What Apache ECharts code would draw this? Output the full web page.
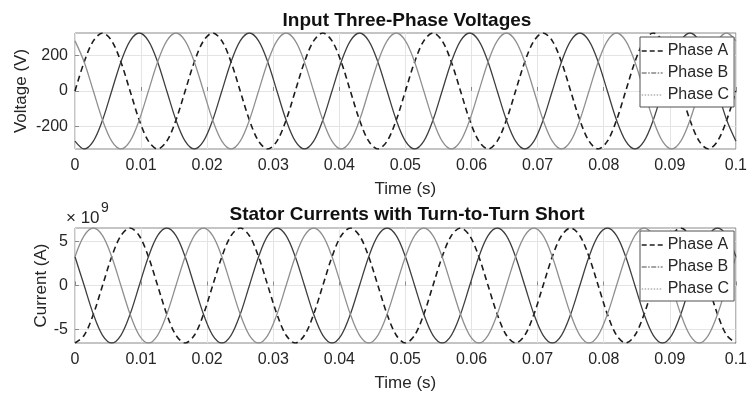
<!DOCTYPE html>
<html><head><meta charset="utf-8">
<script src="https://cdn.jsdelivr.net/npm/echarts@6/dist/echarts.min.js"></script>
<style>html,body{margin:0;padding:0;background:#fff}#c{width:750px;height:394px}</style>
</head><body><div id="c"></div>
<script>
// Sample times (s), 30 electrical degrees apart at 60 Hz
const time = [
0,0.001389,0.002778,0.004167,0.005556,0.006944,0.008333,0.009722,0.011111,0.0125,0.013889,0.015278,
0.016667,0.018056,0.019444,0.020833,0.022222,0.023611,0.025,0.026389,0.027778,0.029167,0.030556,0.031944,
0.033333,0.034722,0.036111,0.0375,0.038889,0.040278,0.041667,0.043056,0.044444,0.045833,0.047222,0.048611,
0.05,0.051389,0.052778,0.054167,0.055556,0.056944,0.058333,0.059722,0.061111,0.0625,0.063889,0.065278,
0.066667,0.068056,0.069444,0.070833,0.072222,0.073611,0.075,0.076389,0.077778,0.079167,0.080556,0.081944,
0.083333,0.084722,0.086111,0.0875,0.088889,0.090278,0.091667,0.093056,0.094444,0.095833,0.097222,0.098611,
0.1];

// Voltages (V)
const voltageA = [
0,163,281,325,281,163,0,-163,-281,-325,-281,-163,
0,163,281,325,281,163,0,-163,-281,-325,-281,-163,
0,163,281,325,281,163,0,-163,-281,-325,-281,-163,
0,163,281,325,281,163,0,-163,-281,-325,-281,-163,
0,163,281,325,281,163,0,-163,-281,-325,-281,-163,
0,163,281,325,281,163,0,-163,-281,-325,-281,-163,
0];
const voltageB = [
-281,-325,-281,-163,0,163,281,325,281,163,0,-163,
-281,-325,-281,-163,0,163,281,325,281,163,0,-163,
-281,-325,-281,-163,0,163,281,325,281,163,0,-163,
-281,-325,-281,-163,0,163,281,325,281,163,0,-163,
-281,-325,-281,-163,0,163,281,325,281,163,0,-163,
-281,-325,-281,-163,0,163,281,325,281,163,0,-163,
-281];
const voltageC = [
281,163,0,-163,-281,-325,-281,-163,0,163,281,325,
281,163,0,-163,-281,-325,-281,-163,0,163,281,325,
281,163,0,-163,-281,-325,-281,-163,0,163,281,325,
281,163,0,-163,-281,-325,-281,-163,0,163,281,325,
281,163,0,-163,-281,-325,-281,-163,0,163,281,325,
281,163,0,-163,-281,-325,-281,-163,0,163,281,325,
281];

// Currents (units of 1e9 A)
const currentA = [
-6.5,-5.63,-3.25,0,3.25,5.63,6.5,5.63,3.25,0,-3.25,-5.63,
-6.5,-5.63,-3.25,0,3.25,5.63,6.5,5.63,3.25,0,-3.25,-5.63,
-6.5,-5.63,-3.25,0,3.25,5.63,6.5,5.63,3.25,0,-3.25,-5.63,
-6.5,-5.63,-3.25,0,3.25,5.63,6.5,5.63,3.25,0,-3.25,-5.63,
-6.5,-5.63,-3.25,0,3.25,5.63,6.5,5.63,3.25,0,-3.25,-5.63,
-6.5,-5.63,-3.25,0,3.25,5.63,6.5,5.63,3.25,0,-3.25,-5.63,
-6.5];
const currentB = [
3.25,0,-3.25,-5.63,-6.5,-5.63,-3.25,0,3.25,5.63,6.5,5.63,
3.25,0,-3.25,-5.63,-6.5,-5.63,-3.25,0,3.25,5.63,6.5,5.63,
3.25,0,-3.25,-5.63,-6.5,-5.63,-3.25,0,3.25,5.63,6.5,5.63,
3.25,0,-3.25,-5.63,-6.5,-5.63,-3.25,0,3.25,5.63,6.5,5.63,
3.25,0,-3.25,-5.63,-6.5,-5.63,-3.25,0,3.25,5.63,6.5,5.63,
3.25,0,-3.25,-5.63,-6.5,-5.63,-3.25,0,3.25,5.63,6.5,5.63,
3.25];
const currentC = [
3.25,5.63,6.5,5.63,3.25,0,-3.25,-5.63,-6.5,-5.63,-3.25,0,
3.25,5.63,6.5,5.63,3.25,0,-3.25,-5.63,-6.5,-5.63,-3.25,0,
3.25,5.63,6.5,5.63,3.25,0,-3.25,-5.63,-6.5,-5.63,-3.25,0,
3.25,5.63,6.5,5.63,3.25,0,-3.25,-5.63,-6.5,-5.63,-3.25,0,
3.25,5.63,6.5,5.63,3.25,0,-3.25,-5.63,-6.5,-5.63,-3.25,0,
3.25,5.63,6.5,5.63,3.25,0,-3.25,-5.63,-6.5,-5.63,-3.25,0,
3.25];

const phaseNames = ['Phase A','Phase B','Phase C'];
const voltageTicks = [-200, 0, 200];
const currentTicks = [-5, 0, 5];
const voltageLimit = [-325, 325];
const currentLimit = [-6.5, 6.5];
const timeRange = [0, 0.1];
const timeStep = 0.01;

const FONT = '"Liberation Sans", Arial, Helvetica, sans-serif';
const FRAME = '#8a8a8a';
const GRIDC = '#e4e4e4';
const TXT = '#262626';

const lineStyles = [
  {color:'#1c1c1c', width:1.6, type:[6,4]},
  {color:'#3e3e3e', width:1.3, type:'solid'},
  {color:'#8f8f8f', width:1.3, type:'solid'}
];
const legendStyles = [
  {color:'#1c1c1c', width:1.4, type:[5,3]},
  {color:'#4a4a4a', width:1.2, type:[5,1.5,1.5,1.5]},
  {color:'#8a8a8a', width:1.2, type:[1.5,1.5]}
];

function pairs(ys){ return time.map((t,i)=>[t, ys[i]]); }

function xAxisCfg(gi){
  return {
    type:'value', gridIndex:gi, min:timeRange[0], max:timeRange[1], interval:timeStep,
    name:'Time (s)', nameLocation:'middle', nameGap:32,
    nameTextStyle:{fontFamily:FONT, fontSize:17, color:TXT},
    axisLine:{show:false},
    axisTick:{show:true, inside:true, length:4, lineStyle:{color:FRAME}},
    axisLabel:{fontFamily:FONT, fontSize:16, color:TXT, margin:9,
      formatter:v=>String(parseFloat(v.toFixed(3)))},
    splitLine:{show:true, lineStyle:{color:GRIDC, width:1}}
  };
}
function yAxisCfg(gi, name, lim, ticks, gap){
  return {
    type:'value', gridIndex:gi, min:lim[0], max:lim[1],
    name:name, nameLocation:'middle', nameGap:gap, nameMoveOverlap:false,
    nameTextStyle:{fontFamily:FONT, fontSize:17, color:TXT},
    axisLine:{show:false},
    axisTick:{show:true, inside:true, length:4, lineStyle:{color:FRAME}, customValues:ticks},
    axisLabel:{fontFamily:FONT, fontSize:16, color:TXT, margin:7, customValues:ticks},
    splitLine:{show:true, lineStyle:{color:GRIDC, width:1}}
  };
}

const series = [];
[voltageA, voltageB, voltageC].forEach((d,i)=>series.push({
  type:'line', name:phaseNames[i], xAxisIndex:0, yAxisIndex:0, data:pairs(d),
  symbol:'none', smooth:0.33, lineStyle:lineStyles[i], itemStyle:{color:lineStyles[i].color}, z:3, animation:false
}));
[currentA, currentB, currentC].forEach((d,i)=>series.push({
  type:'line', name:phaseNames[i], xAxisIndex:1, yAxisIndex:1, data:pairs(d),
  symbol:'none', smooth:0.33, lineStyle:lineStyles[i], itemStyle:{color:lineStyles[i].color}, z:3, animation:false
}));

function legendCfg(top){
  return {
    show:true, type:'plain',
    orient:'vertical', left:640, top:top,
    backgroundColor:'#fff', borderColor:'#505050', borderWidth:1,
    padding:[6,5,4,1], itemGap:6, itemWidth:21, itemHeight:14,
    textStyle:{fontFamily:FONT, fontSize:16, color:TXT},
    selectedMode:false, z:10,
    data: phaseNames.map((n,i)=>({name:n, lineStyle:legendStyles[i], itemStyle:{opacity:0}}))
  };
}

const option = {
  animation:false,
  backgroundColor:'#fff',
  grid:[
    {left:75, top:33, width:664, height:116, show:true, borderColor:FRAME, borderWidth:1, backgroundColor:'#fff'},
    {left:75, top:228, width:664, height:115, show:true, borderColor:FRAME, borderWidth:1, backgroundColor:'#fff'}
  ],
  xAxis:[xAxisCfg(0), xAxisCfg(1)],
  yAxis:[yAxisCfg(0,'Voltage (V)',voltageLimit,voltageTicks,45), yAxisCfg(1,'Current (A)',currentLimit,currentTicks,25)],
  legend:[legendCfg(37), legendCfg(231)],
  series:series,
  graphic:[
    {type:'text', x:407, y:21, style:{text:'Input Three-Phase Voltages', font:'bold 19px '+FONT, fill:'#111', textAlign:'center', textVerticalAlign:'middle', align:'center', verticalAlign:'middle'}},
    {type:'text', x:407, y:215, style:{text:'Stator Currents with Turn-to-Turn Short', font:'bold 19px '+FONT, fill:'#111', textAlign:'center', textVerticalAlign:'middle', align:'center', verticalAlign:'middle'}},
    {type:'text', x:66, y:227, style:{text:'\u00d7 10', font:'17px '+FONT, fill:TXT, textAlign:'left', textVerticalAlign:'bottom', align:'left', verticalAlign:'bottom'}},
    {type:'text', x:101, y:215, style:{text:'9', font:'14px '+FONT, fill:TXT, textAlign:'left', textVerticalAlign:'bottom', align:'left', verticalAlign:'bottom'}}
  ]
};
const chart = echarts.init(document.getElementById('c'), null, {renderer:'canvas'});
chart.setOption(option);
</script></body></html>
